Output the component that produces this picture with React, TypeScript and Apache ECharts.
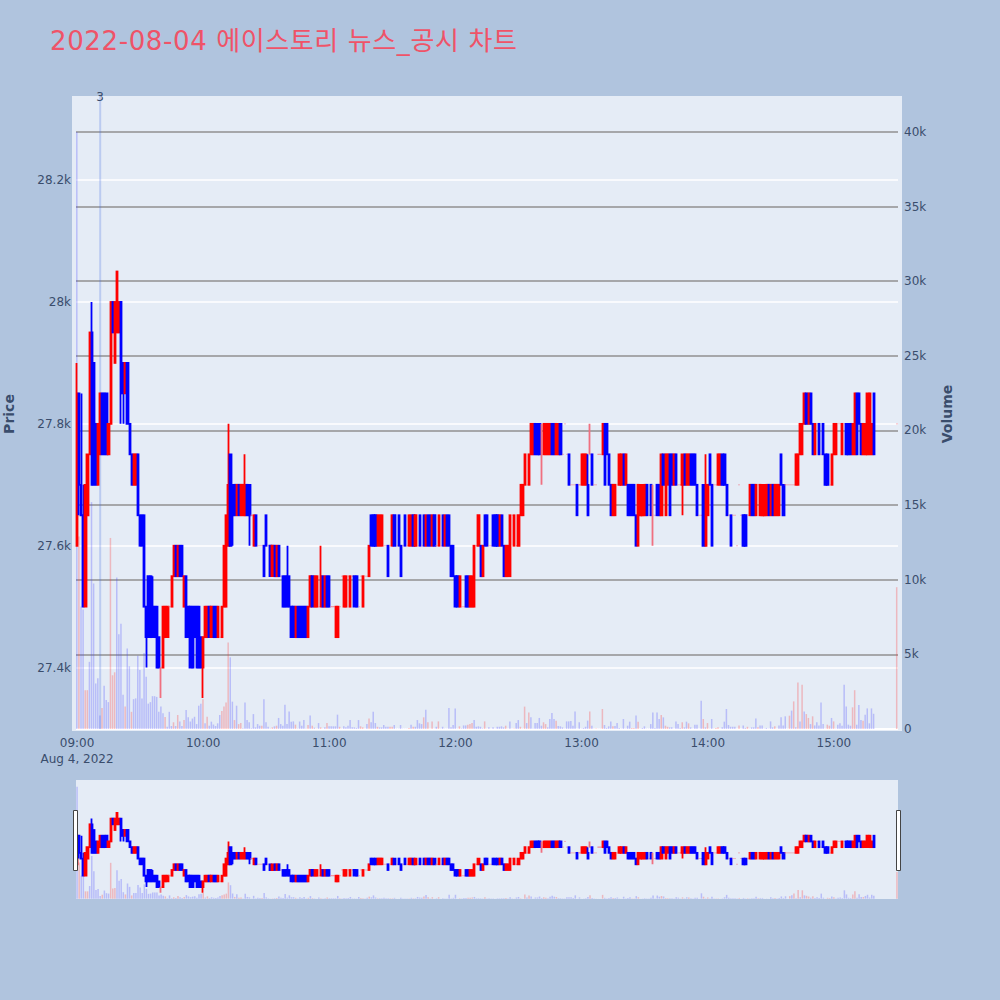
import React, { useEffect, useRef } from "react";
import * as echarts from "echarts";

const titleText = "2022-08-04 에이스토리 뉴스_공시 차트";
const dateLabel = "Aug 4, 2022";
const priceTicks = [27400, 27600, 27800, 28000, 28200];
const volumeTicks = [0, 5000, 10000, 15000, 20000, 25000, 30000, 35000, 40000];
const hourTicks = ["09:00", "10:00", "11:00", "12:00", "13:00", "14:00", "15:00"];
const newsMinute = 11;
const newsLabel = "3";

// [open, close] or [open, close, low, high], one row per minute
const c0900 = [[27600,27850,27600,27900],[27850,27700,27650,27850],[27700,27650,27650,27850],[27650,27500,27500,27700],[27500,27700],[27650,27750],[27750,27950],[27950,27700,27700,28000],[27900,27700],[27800,27700],[27700,27800],[27750,27850],[27850,27750],[27850,27750],[27850,27750],[27750,27800],[27800,28000],[28000,27950],[27900,28000],[27950,28050],[27950,28000],[28000,27850,27800,28000],[27900,27850,27800,27900],[27850,27900],[27900,27800],[27800,27750],[27750,27700],[27700,27750],[27700,27750],[27750,27650]];
const c0930 = [[27650,27600],[27650,27600],[27650,27500],[27500,27450,27400,27500],[27550,27450],[27550,27450],[27500,27450,27450,27550],[27500,27450],[27500,27400],[27450,27400],[27400,27400,27350,27400],[27400,27500],[27450,27500],[27450,27500],[27500,27500],[27500,27550],[27550,27600],[27600,27550],[27550,27600],[27600,27550],[27600,27550],[27500,27550],[27550,27450],[27500,27450],[27500,27400],[27500,27400],[27500,27450],[27500,27400],[27500,27400],[27450,27400]];
const c1000 = [[27400,27450,27350,27450],[27450,27500],[27450,27500],[27500,27450],[27450,27500],[27500,27450],[27500,27450],[27450,27500],[27450,27450],[27450,27500],[27500,27600],[27500,27650],[27600,27700,27600,27800],[27750,27600],[27700,27650,27600,27700],[27700,27650],[27650,27700],[27700,27650],[27650,27700],[27650,27700],[27650,27700,27650,27750],[27700,27650],[27700,27650,27600,27700],[27650,27650],[27600,27650],[27650,27600],[27600,27600],[27600,27600],[27600,27600],[27600,27550]];
const c1030 = [[27650,27600],[27600,27600],[27600,27550],[27550,27600],[27600,27550],[27550,27600],[27600,27550],[27550,27550],[27550,27500],[27550,27500],[27550,27500,27500,27600],[27550,27500],[27500,27450],[27500,27450],[27450,27500],[27500,27450],[27500,27450],[27500,27450],[27500,27450],[27500,27450],[27450,27500],[27500,27550],[27550,27500],[27500,27550],[27500,27550],[27500,27500],[27500,27550,27500,27600],[27550,27500],[27500,27550],[27550,27500]];
const c1100 = [[27550,27500],[27500,27500],[27500,27500],[27450,27500],[27450,27500],[27500,27500],[27550,27550],[27500,27550],[27500,27550],[27550,27550],[27500,27550],[27550,27550],[27550,27500],[27550,27500],[27500,27500],[27550,27550],[27500,27550],[27550,27550],[27550,27550],[27550,27600],[27650,27600],[27650,27600],[27650,27600],[27600,27650],[27600,27650],[27600,27650],[27600,27600],[27600,27600],[27600,27550],[27600,27600]];
const c1130 = [[27600,27650],[27650,27600],[27600,27600],[27650,27600],[27600,27550,27550,27600],[27600,27600],[27650,27600],[27600,27600],[27600,27650],[27600,27650],[27650,27600],[27600,27650],[27600,27600],[27650,27600],[27600,27600],[27650,27600],[27600,27650],[27650,27600],[27650,27600],[27600,27650],[27650,27600],[27600,27600],[27600,27650],[27600,27600],[27650,27600],[27600,27650],[27650,27600],[27650,27600],[27600,27550],[27600,27550]];
const c1200 = [[27550,27500],[27550,27500],[27500,27550],[27500,27500],[27500,27500],[27550,27500],[27550,27500],[27500,27550],[27500,27550],[27500,27600],[27600,27600],[27600,27650],[27600,27550],[27550,27600],[27650,27600],[27650,27600],[27600,27600],[27600,27600],[27650,27600],[27650,27600],[27650,27600],[27600,27650],[27650,27600],[27600,27550],[27550,27600],[27550,27600],[27550,27650],[27650,27650],[27600,27650],[27600,27600]];
const c1230 = [[27600,27650],[27650,27700],[27650,27700],[27700,27750],[27700,27700],[27700,27750],[27750,27800],[27750,27800],[27800,27750],[27800,27750],[27800,27750],[27750,27750,27700,27800],[27750,27800],[27750,27800],[27750,27800],[27750,27800],[27800,27750],[27800,27750],[27750,27800],[27750,27800],[27800,27750],[27750,27750],[27800,27800],[27750,27750],[27750,27700],[27700,27700],[27700,27700],[27700,27700],[27700,27650],[27700,27700]];
const c1300 = [[27700,27750],[27700,27750],[27700,27750],[27700,27650,27650,27750],[27750,27750,27750,27800],[27750,27700],[27700,27700],[27700,27700],[27750,27750],[27750,27750],[27750,27800],[27800,27700],[27800,27750],[27750,27700],[27700,27650],[27650,27700],[27650,27700],[27700,27700],[27700,27750],[27700,27750],[27750,27700],[27700,27750],[27700,27650],[27700,27650],[27700,27650],[27700,27650],[27650,27600],[27600,27700],[27650,27700],[27650,27700]];
const c1330 = [[27650,27700],[27700,27650],[27650,27650],[27700,27650],[27650,27650,27600,27700],[27650,27650],[27700,27650],[27700,27650],[27650,27750],[27750,27700],[27650,27750],[27700,27750],[27750,27650],[27750,27700],[27700,27750],[27750,27700],[27700,27700],[27700,27700],[27700,27750,27650,27750],[27750,27700],[27700,27750],[27700,27750],[27750,27700],[27750,27700],[27750,27700],[27700,27650],[27650,27650],[27650,27650],[27700,27600],[27600,27700,27600,27750]];
const c1400 = [[27650,27700],[27750,27700],[27700,27600],[27700,27700],[27700,27700],[27700,27750],[27700,27750],[27750,27700],[27750,27700],[27700,27650],[27650,27650],[27650,27600],[27650,27650],[27650,27650],[27600,27600],[27700,27700],[27650,27650],[27650,27600],[27650,27600],[27650,27650],[27650,27700],[27700,27650],[27700,27650],[27650,27700],[27700,27700],[27650,27700],[27650,27700],[27650,27700],[27650,27700],[27700,27650]];
const c1430 = [[27650,27700],[27700,27650],[27650,27700],[27650,27700],[27650,27700],[27750,27700],[27700,27650],[27700,27700],[27700,27700],[27700,27700],[27700,27700],[27700,27700],[27700,27750],[27700,27750],[27750,27800],[27750,27800],[27800,27850],[27850,27800],[27800,27850],[27850,27800],[27800,27750],[27750,27800],[27800,27800],[27800,27750],[27750,27750],[27800,27750],[27750,27700],[27750,27700],[27700,27700],[27700,27750]];
const c1500 = [[27750,27800],[27750,27800],[27800,27800],[27800,27800],[27750,27800],[27800,27800],[27800,27750],[27800,27750],[27800,27750],[27750,27800],[27750,27850],[27850,27750],[27850,27800],[27800,27750],[27750,27800],[27750,27800],[27750,27850],[27750,27850],[27750,27800],[27850,27750]];
const gapMinutes = 10;
const cClose = [[27800,27800]];

const v0900 = [40000,12900,8200,8000,2600,2600,4500,15200,9750,3050,3400,900,1400,2900,1950,1800,12800,3600,3800,10150,6350,7050,2300,1500,5400,4200,1150,2000,2050,4900];
const v0930 = [3950,2050,5100,3500,1700,1800,2200,2200,2150,1150,1500,1050,800,150,1150,200,450,200,940,500,200,600,1270,780,500,700,820,330,1560,1700];
const v1000 = [2000,380,820,220,490,300,200,380,940,1200,1500,1780,5800,4800,1830,600,1560,330,400,50,1780,600,450,50,1000,110,330,220,220,2000];
const v1030 = [450,150,40,110,180,220,740,330,220,1630,330,1180,490,510,290,30,500,220,600,30,270,900,220,90,20,400,110,20,110,400];
const v1100 = [180,180,180,180,960,150,20,180,110,220,600,110,110,70,600,180,110,20,330,710,450,1160,400,150,110,110,270,150,150,150];
const v1130 = [150,270,20,20,270,20,20,20,70,290,150,150,600,380,330,780,1290,450,20,510,20,150,510,20,150,20,20,1400,110,270];
const v1200 = [1380,20,180,40,240,240,290,330,400,600,150,180,150,40,510,20,110,20,110,20,150,150,180,110,220,20,510,20,40,400];
const v1230 = [600,150,20,1500,400,1100,780,30,400,400,740,220,450,330,110,670,1070,670,560,200,180,110,20,510,510,530,220,1180,20,450];
const v1300 = [20,70,150,560,1180,220,20,40,20,20,1340,270,70,180,510,180,200,400,70,20,670,20,220,490,70,70,900,490,20,70];
const v1330 = [180,20,20,330,1100,70,1100,670,940,780,220,150,110,110,20,510,330,70,450,110,490,380,110,20,290,290,20,1900,670,110];
const v1400 = [400,20,670,20,70,110,20,110,490,1340,270,150,150,150,20,240,20,240,70,150,20,110,110,710,110,240,240,20,70,20];
const v1430 = [510,110,180,20,240,780,240,850,20,890,1230,1850,110,3120,510,2970,1180,1000,740,330,850,240,450,240,1780,330,20,290,220,740];
const v1500 = [510,20,290,380,220,2970,1500,290,220,1450,2600,290,1600,600,560,960,1380,380,1380,1020];
const vClose = [9500];
// minutes from 09:00 whose volume bar is drawn red
const redVolumeMinutes = [1,4,5,12,16,17,18,23,26,42,46,48,51,60,62,69,70,71,72,75,77,78,88,93,95,104,110,112,114,116,119,125,135,136,139,143,149,150,158,160,165,167,169,172,182,186,187,188,194,204,208,211,213,215,222,223,228,244,247,250,255,264,265,267,278,280,281,288,291,298,300,304,305,315,319,324,332,339,341,343,345,347,348,350,357,358,360,369,370,374,390];

const toMinuteLabel = (m: number) => {
  const t = 9 * 60 + m;
  return String(Math.floor(t / 60)).padStart(2, "0") + ":" + String(t % 60).padStart(2, "0");
};
const emptyRows = Array.from({ length: gapMinutes }, () => null);
const rows: any[] = [...c0900, ...c0930, ...c1000, ...c1030, ...c1100, ...c1130, ...c1200, ...c1230, ...c1300, ...c1330, ...c1400, ...c1430, ...c1500, ...emptyRows, ...cClose];
const vols: any[] = [...v0900, ...v0930, ...v1000, ...v1030, ...v1100, ...v1130, ...v1200, ...v1230, ...v1300, ...v1330, ...v1400, ...v1430, ...v1500, ...emptyRows, ...vClose];
const minutes = rows.map((_, i) => toMinuteLabel(i));
const candleData = rows.map((r) => {
  if (!r) return "-";
  const o = r[0], c = r[1];
  const low = r.length > 2 ? r[2] : Math.min(o, c);
  const high = r.length > 2 ? r[3] : Math.max(o, c);
  if (o === c && low === high) {
    return { value: [o, c, low, high], itemStyle: { borderWidth: 1, opacity: 0.55 } };
  }
  return [o, c, low, high];
});
const blueVols = vols.map((v, i) => (v == null || redVolumeMinutes.includes(i) ? "-" : v));
const redVols = vols.map((v, i) => (v != null && redVolumeMinutes.includes(i) ? v : "-"));

const PRICE_MIN = 27296, PRICE_MAX = 28338, VOL_MIN = -134, VOL_MAX = 42412;
const newsBars = minutes.map((_, i) => (i === newsMinute ? VOL_MAX : "-"));

const FONT = '"DejaVu Sans", Verdana, sans-serif';
const INK = "#3a4d6c";
const TITLE_COLOR = "#ef5368";
const priceLabel = (v: number) => v / 1000 + "k";
const volLabel = (v: number) => (v === 0 ? "0" : v / 1000 + "k");
const candleStyle = {
  color: "#ff0000", color0: "#0000ff", borderColor: "#ff0000", borderColor0: "#0000ff",
  borderColorDoji: "#f07080", borderWidth: 1.8,
};

export default function App() {
  const ref = useRef<HTMLDivElement>(null);
  useEffect(() => {
    const chart = echarts.init(ref.current!, undefined, { renderer: "svg" });
    const mainX = (gridIndex: number, show: boolean) => ({
      type: "category", gridIndex, data: minutes, boundaryGap: true,
      axisLine: { show: false }, axisTick: { show: false }, splitLine: { show: false },
      axisLabel: show
        ? {
            show: true, color: INK, fontFamily: FONT, fontSize: 12, margin: 4, lineHeight: 16,
            interval: (_: number, v: string) => hourTicks.includes(v),
            formatter: (v: string) => (v === hourTicks[0] ? v + "\n" + dateLabel : v),
          }
        : { show: false },
    });
    chart.setOption({
      animation: false,
      backgroundColor: "#b0c4de",
      title: {
        text: titleText, left: 50, top: 28, padding: 0,
        textStyle: { color: TITLE_COLOR, fontSize: 26, fontWeight: "normal", fontFamily: '"DejaVu Sans", "Noto Sans CJK KR", sans-serif' },
      },
      graphic: [
        { type: "rect", z: -10, silent: true, shape: { x: 72, y: 96, width: 830, height: 635 }, style: { fill: "#e5ecf6" } },
        { type: "rect", z: 100, silent: true, shape: { x: 73.5, y: 810.5, width: 4, height: 60 }, style: { fill: "#ffffff", stroke: "#444444", lineWidth: 1 } },
        { type: "rect", z: 100, silent: true, shape: { x: 896.5, y: 810.5, width: 4, height: 60 }, style: { fill: "#ffffff", stroke: "#444444", lineWidth: 1 } },
        { type: "text", z: 100, silent: true, rotation: Math.PI / 2, x: 9, y: 414, style: { text: "Price", fill: INK, fontFamily: FONT, fontSize: 14, fontWeight: "bold", align: "center", verticalAlign: "middle" } },
        { type: "text", z: 100, silent: true, rotation: Math.PI / 2, x: 947, y: 414, style: { text: "Volume", fill: INK, fontFamily: FONT, fontSize: 14, fontWeight: "bold", align: "center", verticalAlign: "middle" } },
      ],
      grid: [
        { left: 76, top: 96, width: 822, height: 635, containLabel: false },
        { left: 76, top: 780, width: 822, height: 119, show: true, backgroundColor: "#e5ecf6", borderWidth: 0 },
      ],
      xAxis: [mainX(0, true), mainX(1, false)],
      yAxis: [
        {
          type: "value", gridIndex: 0, min: PRICE_MIN, max: PRICE_MAX, position: "left",
          axisLine: { show: false },
          axisTick: { show: false, customValues: priceTicks },
          axisLabel: { color: INK, fontFamily: FONT, fontSize: 12, margin: 5, customValues: priceTicks, formatter: priceLabel },
          splitLine: { show: true, lineStyle: { color: "#ffffff", width: 1.5 } },
        },
        {
          type: "value", gridIndex: 0, min: VOL_MIN, max: VOL_MAX, position: "right",
          axisLine: { show: false },
          axisTick: { show: false, customValues: volumeTicks },
          axisLabel: { color: INK, fontFamily: FONT, fontSize: 12, margin: 6, customValues: volumeTicks, formatter: volLabel },
          splitLine: { show: true, lineStyle: { color: "#909090", width: 1.5 } },
        },
        { type: "value", gridIndex: 1, min: PRICE_MIN, max: PRICE_MAX, show: false, splitLine: { show: false } },
        { type: "value", gridIndex: 1, min: VOL_MIN, max: VOL_MAX, show: false, splitLine: { show: false } },
      ],
      series: [
        { type: "candlestick", name: "Price", xAxisIndex: 0, yAxisIndex: 0, data: candleData, barWidth: 1.7, itemStyle: candleStyle, z: 3 },
        {
          type: "bar", name: "Volume", xAxisIndex: 0, yAxisIndex: 1, data: blueVols, barWidth: 1.5, barGap: "-100%", z: 2,
          itemStyle: { color: "rgba(70,70,255,0.28)" },
          markLine: { silent: true, symbol: "none", label: { show: false }, z: 2, lineStyle: { color: "#ffffff", width: 2, type: "solid" }, data: [{ yAxis: 0 }] },
        },
        { type: "bar", name: "Volume up", xAxisIndex: 0, yAxisIndex: 1, data: redVols, barWidth: 1.5, barGap: "-100%", z: 2, itemStyle: { color: "rgba(255,50,50,0.28)" } },
        {
          type: "bar", name: "News", xAxisIndex: 0, yAxisIndex: 1, data: newsBars, barWidth: 2, barGap: "-100%", z: 2,
          itemStyle: { color: "rgba(65,105,225,0.25)" },
          label: { show: true, position: "top", distance: -7, formatter: newsLabel, color: INK, fontFamily: FONT, fontSize: 12 },
        },
        { type: "candlestick", xAxisIndex: 1, yAxisIndex: 2, data: candleData, barWidth: 1.7, itemStyle: candleStyle, z: 3 },
        { type: "bar", xAxisIndex: 1, yAxisIndex: 3, data: blueVols, barWidth: 1.5, barGap: "-100%", z: 2, itemStyle: { color: "rgba(70,70,255,0.28)" } },
        { type: "bar", xAxisIndex: 1, yAxisIndex: 3, data: redVols, barWidth: 1.5, barGap: "-100%", z: 2, itemStyle: { color: "rgba(255,50,50,0.28)" } },
      ],
    });
    return () => chart.dispose();
  }, []);
  return (
    <>
      <style>{`text[fill="${TITLE_COLOR}"] { letter-spacing: 0.62px; }`}</style>
      <div ref={ref} style={{ position: "fixed", left: 0, top: 0, width: 1000, height: 1000 }} />
    </>
  );
}
